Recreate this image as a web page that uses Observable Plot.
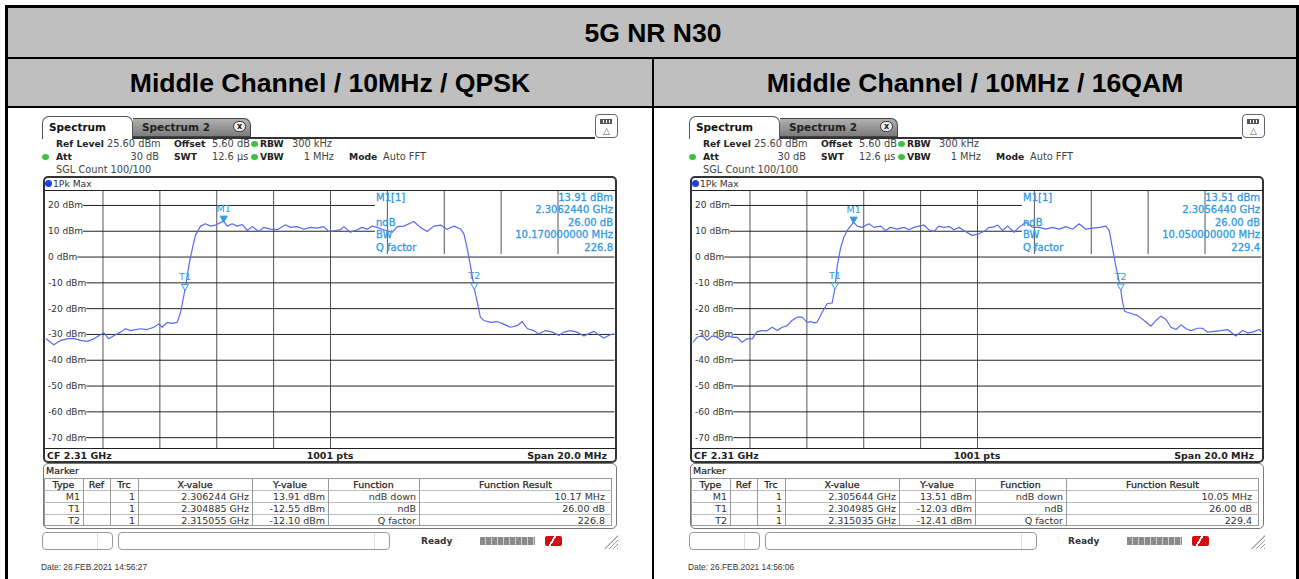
<!DOCTYPE html>
<html><head><meta charset="utf-8">
<script src="https://cdn.jsdelivr.net/npm/d3@7"></script>
<script src="https://cdn.jsdelivr.net/npm/@observablehq/plot@0.6"></script>
<style>
html,body{margin:0;padding:0;background:#fff;}
#page{position:relative;width:1299px;height:579px;overflow:hidden;background:#fff;font-family:"DejaVu Sans",sans-serif;}
.abs{position:absolute;white-space:nowrap;}
.t{position:absolute;white-space:nowrap;line-height:1;}
</style></head>
<body><div id="page"></div>
<script>
// ---------------- data ----------------
const tableTitle = "5G NR N30";
const panelTitles = ["Middle Channel / 10MHz / QPSK", "Middle Channel / 10MHz / 16QAM"];
const startMHz = 2300;           // CF 2.31 GHz, span 20 MHz
const spanMHz = 20;
const refLevel = 25.6;
const bottomLevel = -74.4;
const yTicks = [20, 10, 0, -10, -20, -30, -40, -50, -60, -70];
const xGridMHz = [2302, 2304, 2306, 2308, 2310, 2312, 2314, 2316, 2318];

// trace 1 (QPSK): frequency offset from 2300 MHz, level dBm
const qpskFreq = [0.0,0.27,0.51,0.74,0.97,1.21,1.45,1.68,1.91,2.03,2.20,2.38,2.62,2.79,2.97,3.14,3.32,3.55,3.79,3.96,4.08,4.26,4.43,4.61,4.73,4.885,5.02,5.14,5.25,5.43,5.60,5.78,5.96,6.244,6.37,6.54,6.72,6.90,7.07,7.25,7.48,7.65,7.89,8.13,8.42,8.59,8.83,9.06,9.30,9.53,9.76,9.94,10.18,10.35,10.47,10.70,10.94,11.11,11.29,11.47,11.64,11.87,12.17,12.35,12.58,12.93,13.16,13.40,13.63,13.87,14.10,14.34,14.57,14.69,14.81,14.92,15.055,15.16,15.27,15.39,15.63,15.86,16.09,16.33,16.56,16.74,16.92,17.15,17.32,17.56,17.80,18.03,18.20,18.44,18.67,18.91,19.26,19.43,19.61,19.84,20.0];
const qpskLevel = [-31.7,-34.0,-32.3,-31.7,-31.5,-32.3,-32.7,-31.7,-30.1,-29.4,-31.7,-30.5,-29.1,-27.8,-28.5,-28.1,-27.8,-28.1,-27.2,-25.9,-27.2,-25.3,-25.7,-25.3,-21.4,-12.55,-3.3,3.2,8.4,12.0,12.9,12.0,12.4,13.91,12.0,12.9,12.0,12.6,10.3,11.8,9.9,11.5,10.8,10.6,12.5,11.5,11.8,10.8,11.5,11.2,11.8,9.9,10.3,10.6,11.8,9.6,10.6,11.5,10.8,12.0,11.5,10.6,9.6,11.8,12.0,13.8,11.5,9.9,12.0,12.4,10.8,12.0,10.9,9.0,3.2,-3.3,-12.10,-17.5,-23.3,-24.6,-25.3,-25.0,-26.0,-27.2,-26.6,-25.0,-27.8,-28.5,-29.8,-28.5,-29.1,-30.4,-29.1,-28.5,-29.1,-30.6,-28.8,-30.1,-31.4,-30.1,-29.8];

// trace 2 (16QAM)
const qamFreq = [0.0,0.14,0.32,0.49,0.67,0.85,1.02,1.20,1.37,1.55,1.72,1.90,2.08,2.25,2.43,2.60,2.78,2.96,3.13,3.31,3.48,3.66,3.83,4.01,4.13,4.25,4.36,4.54,4.71,4.89,4.985,5.07,5.18,5.30,5.42,5.644,5.77,5.94,6.18,6.36,6.59,6.77,6.94,7.17,7.41,7.59,7.76,7.94,8.11,8.29,8.47,8.64,8.82,9.00,9.17,9.35,9.52,9.81,10.05,10.28,10.40,10.53,10.71,10.88,11.06,11.29,11.46,11.70,11.94,12.17,12.40,12.64,12.87,13.11,13.34,13.57,13.81,14.05,14.28,14.51,14.63,14.75,14.86,15.035,15.10,15.18,15.39,15.63,15.86,16.10,16.27,16.45,16.63,16.80,16.98,17.16,17.33,17.51,17.74,17.91,18.09,18.32,18.56,18.79,19.08,19.32,19.50,19.67,19.91,20.0];
const qamLevel = [-33.0,-31.1,-30.4,-32.3,-30.6,-31.1,-32.3,-30.6,-31.1,-31.1,-33.0,-31.7,-31.7,-28.9,-28.5,-28.6,-27.2,-28.5,-27.2,-26.6,-24.6,-23.3,-23.3,-25.3,-25.0,-25.5,-25.3,-21.4,-18.1,-17.8,-12.03,-3.3,3.2,7.7,10.3,13.51,12.0,11.5,12.9,11.5,12.0,10.3,11.5,10.8,11.5,10.6,11.5,12.0,12.4,10.6,9.9,12.0,11.5,11.8,10.6,11.5,10.3,8.4,9.0,10.3,11.5,11.5,12.4,10.3,12.0,9.6,11.5,13.5,11.5,11.5,10.8,11.5,10.8,11.8,10.8,12.9,10.8,11.2,11.5,12.0,10.3,3.2,-3.3,-12.41,-17.5,-21.1,-21.8,-22.7,-24.6,-26.8,-24.6,-22.9,-24.2,-27.2,-28.1,-26.3,-27.8,-28.5,-27.6,-27.6,-29.1,-28.8,-28.5,-28.1,-30.6,-28.5,-29.4,-29.1,-28.1,-29.1];

const markerNames = ["M1", "T1", "T2"];
const qpskMarkerFreqGHz = ["2.306244", "2.304885", "2.315055"];
const qpskMarkerLevel = [13.91, -12.55, -12.10];
const qamMarkerFreqGHz = ["2.305644", "2.304985", "2.315035"];
const qamMarkerLevel = [13.51, -12.03, -12.41];
const markerFunctions = ["ndB down", "ndB", "Q factor"];
const qpskResults = ["10.17 MHz", "26.00 dB", "226.8"];
const qamResults = ["10.05 MHz", "26.00 dB", "229.4"];
const qpskInfo = ["13.91 dBm", "2.3062440 GHz", "26.00 dB", "10.170000000 MHz", "226.8"];
const qamInfo = ["13.51 dBm", "2.3056440 GHz", "26.00 dB", "10.050000000 MHz", "229.4"];
const dates = ["Date: 26.FEB.2021  14:56:27", "Date: 26.FEB.2021  14:56:06"];

// marker info box (hides grid in top right) in data units
const infoBoxLeftMHz = 2311.58;
const infoBoxBottomDbm = 1.0;

// ---------------- helpers ----------------
const page = document.getElementById("page");
function box(css) { const d = document.createElement("div"); d.className = "abs"; d.style.cssText += css; page.appendChild(d); return d; }
function txt(s, x, y, opt = {}) {
  const d = document.createElement("div"); d.className = "t"; d.textContent = s;
  const size = opt.size || 9.5;
  d.style.fontSize = size + "px";
  d.style.fontFamily = opt.font || '"DejaVu Sans", sans-serif';
  d.style.fontWeight = opt.bold ? "bold" : "normal";
  d.style.color = opt.color || "#222";
  if (opt.stroke) d.style.webkitTextStroke = opt.stroke;
  d.style.left = x + "px"; d.style.top = y + "px";
  const tx = opt.align === "right" ? "-100%" : opt.align === "center" ? "-50%" : "0";
  d.style.transform = `translate(${tx},-50%)`;
  page.appendChild(d); return d;
}
const measureCtx = document.createElement("canvas").getContext("2d");
measureCtx.font = '9px "DejaVu Sans"';
const tickLabel = d => `${d} dBm`;

// ---------------- table frame ----------------
box("left:8px;top:8px;width:1288px;height:49px;background:#bfbfbf;");
box("left:8px;top:59px;width:1288px;height:47px;background:#bfbfbf;");
box("left:5px;top:5px;width:1294px;height:600px;border:3px solid #000;box-sizing:border-box;");
box("left:8px;top:57px;width:1288px;height:2px;background:#000;");
box("left:8px;top:106px;width:1288px;height:2px;background:#000;");
box("left:652px;top:59px;width:2px;height:540px;background:#000;");
const hFont = '"Liberation Sans", Arial, sans-serif';
txt(tableTitle, 653, 33, {size: 26.5, bold: true, font: hFont, color: "#000", align: "center"});
txt(panelTitles[0], 330, 83, {size: 26.6, bold: true, font: hFont, color: "#000", align: "center"});
txt(panelTitles[1], 975, 83, {size: 26.6, bold: true, font: hFont, color: "#000", align: "center"});

// ---------------- spectrum panel ----------------
const blue = "#3399e0";
function panel(dx, freq, level, mFreq, mLevel, info, results, date) {
  const X = v => v + dx;
  // tabs
  box(`left:${X(133)}px;top:137px;width:462px;height:2px;background:#333;`);
  box(`left:${X(133)}px;top:118px;width:118px;height:19px;box-sizing:border-box;border:1px solid #444;border-left:none;border-radius:0 7px 0 0;background:linear-gradient(#b0b0b0,#7c7c7c);`);
  txt("Spectrum 2", X(142), 127, {size: 10.5, bold: true, color: "#222"});
  const xb = box(`left:${X(233)}px;top:121px;width:13px;height:11px;box-sizing:border-box;border:1px solid #333;border-radius:6px;background:#eee;font:bold 8px 'DejaVu Sans';line-height:9px;text-align:center;color:#222;`);
  xb.textContent = "x";
  box(`left:${X(42)}px;top:116px;width:91px;height:23px;box-sizing:border-box;border:1px solid #555;border-bottom:none;border-radius:7px 7px 0 0;background:#fff;`);
  txt("Spectrum", X(49), 127, {size: 10.5, bold: true, color: "#111"});
  box(`left:${X(595)}px;top:114px;width:23px;height:24px;box-sizing:border-box;border:1px solid #666;border-radius:4px;background:#fff;`);
  box(`left:${X(600)}px;top:119px;width:12px;height:5px;background:repeating-linear-gradient(90deg,#555 0 2px,#fff 2px 3px);border:1px solid #555;box-sizing:border-box;`);
  txt("△", X(606.5), 131, {size: 9, color: "#555", align: "center"});
  // info rows
  const g = (x, y) => box(`left:${X(x) - 3}px;top:${y - 3}px;width:7px;height:6px;border-radius:50%;background:#3fbf3f;`);
  txt("Ref Level", X(56), 143.5, {size: 9.2, bold: true});
  txt("25.60 dBm", X(107), 143.5, {size: 9.8, color: "#444"});
  txt("Offset", X(174), 143.5, {size: 9.2, bold: true});
  txt("5.60 dB", X(212), 143.5, {size: 9.8, color: "#444"});
  g(254, 143.5);
  txt("RBW", X(260), 143.5, {size: 9.2, bold: true});
  txt("300 kHz", X(292), 143.5, {size: 9.8, color: "#444"});
  g(45, 156.5);
  txt("Att", X(56), 156.5, {size: 9.2, bold: true});
  txt("30 dB", X(159), 156.5, {size: 9.8, color: "#444", align: "right"});
  txt("SWT", X(174), 156.5, {size: 9.2, bold: true});
  txt("12.6 µs", X(212), 156.5, {size: 9.8, color: "#444"});
  g(254, 156.5);
  txt("VBW", X(260), 156.5, {size: 9.2, bold: true});
  txt("1 MHz", X(334), 156.5, {size: 9.8, color: "#444", align: "right"});
  txt("Mode", X(349), 156.5, {size: 9.2, bold: true});
  txt("Auto FFT", X(383), 156.5, {size: 9.8, color: "#444"});
  txt("SGL Count 100/100", X(56), 169.5, {size: 9.8, color: "#444"});

  // plot
  const innerW = 576 - 7.2;
  const pxPerMHz = innerW / spanMHz;
  const trace = freq.map((f, i) => ({f: startMHz + f, v: level[i]}));
  const markers = markerNames.map((n, i) => ({name: n, f: +mFreq[i] * 1000, v: mLevel[i]}));
  const ruleStart = d => startMHz + (2 + measureCtx.measureText(tickLabel(d)).width + 0.5) / pxPerMHz;
  const chart = Plot.plot({
    width: 576, height: 286,
    marginLeft: 3.6, marginRight: 3.6, marginTop: 14.5, marginBottom: 13.5,
    x: {domain: [startMHz, startMHz + spanMHz], axis: null},
    y: {domain: [bottomLevel, refLevel], axis: null},
    style: {background: "transparent", fontFamily: '"DejaVu Sans", sans-serif', overflow: "visible"},
    marks: [
      Plot.ruleX(xGridMHz, {x: d => d, y1: d => d > infoBoxLeftMHz ? infoBoxBottomDbm : bottomLevel, y2: refLevel, stroke: "#555", strokeWidth: 1}),
      Plot.ruleY(yTicks, {y: d => d, x1: ruleStart, x2: d => d > infoBoxBottomDbm ? infoBoxLeftMHz : startMHz + spanMHz, stroke: "#222", strokeWidth: 1}),
      Plot.text(yTicks, {x: startMHz, y: d => d, text: tickLabel, textAnchor: "start", dx: 2, fill: "#333", fontSize: 9}),
      Plot.line(trace, {x: "f", y: "v", stroke: "#5a6af0", strokeWidth: 1.2, clip: true}),
      Plot.dot(markers, {x: "f", y: "v", symbol: "triangle", rotate: 180, r: 2.6, dy: -3, fill: d => d.name === "M1" ? blue : "white", stroke: blue, strokeWidth: 1}),
      Plot.text(markers, {x: "f", y: "v", text: "name", dy: -12, fill: blue, fontSize: 9.5})
    ]
  });
  chart.style.position = "absolute";
  chart.style.left = X(42) + "px";
  chart.style.top = "176px";
  page.appendChild(chart);

  // frame
  box(`left:${X(43)}px;top:176px;width:574px;height:287px;box-sizing:border-box;border:2px solid #333;border-radius:5px;`);
  box(`left:${X(44)}px;top:190px;width:572px;height:1px;background:#222;`);
  box(`left:${X(44)}px;top:448px;width:572px;height:1px;background:#222;`);
  box(`left:${X(45)}px;top:180px;width:7px;height:7px;border-radius:50%;background:#1f3fe0;`);
  txt("1Pk Max", X(53), 183.5, {size: 9.2, color: "#333"});
  txt("CF 2.31 GHz", X(47), 456, {size: 9.5, bold: true});
  txt("1001 pts", X(330), 456, {size: 9.5, bold: true, align: "center"});
  txt("Span 20.0 MHz", X(607), 456, {size: 9.5, bold: true, align: "right"});
  // marker info
  const rows = [197.7, 210.2, 222.7, 235.2, 247.7];
  const leftLabels = ["M1[1]", "", "ndB", "BW", "Q factor"];
  leftLabels.forEach((s, i) => { if (s) txt(s, X(376), rows[i], {size: 10, color: blue, stroke: "0.3px " + blue}); });
  info.forEach((s, i) => txt(s, X(613), rows[i], {size: 10, color: blue, align: "right", stroke: "0.3px " + blue}));

  // marker table
  box(`left:${X(43)}px;top:463px;width:574px;height:66px;box-sizing:border-box;border:1px solid #777;border-radius:5px;`);
  txt("Marker", X(46), 470.5, {size: 9.5, color: "#222", stroke: "0.2px #222"});
  const cols = [44, 83, 110, 138, 252, 328, 419, 612];
  const rowsY = [478, 490, 502, 514, 526];
  box(`left:${X(44)}px;top:478px;width:568px;height:48px;box-sizing:border-box;border:1px solid #999;`);
  rowsY.slice(1, 4).forEach(y => box(`left:${X(44)}px;top:${y}px;width:568px;height:1px;background:#bbb;`));
  cols.slice(1, 7).forEach(c => box(`left:${X(c)}px;top:478px;width:1px;height:48px;background:#999;`));
  const heads = ["Type", "Ref", "Trc", "X-value", "Y-value", "Function", "Function Result"];
  heads.forEach((h, i) => txt(h, X((cols[i] + cols[i + 1]) / 2), 484.5, {size: 9.5, color: "#222", align: "center", stroke: "0.25px #222"}));
  markerNames.forEach((n, r) => {
    const y = rowsY[r + 1] + 6.5;
    const cells = [n, "", "1", mFreq[r] + " GHz", mLevel[r].toFixed(2) + " dBm", markerFunctions[r], results[r]];
    cells.forEach((c, i) => { if (c) txt(c, X(cols[i + 1] - 3 - (i === 6 ? 4 : 0)), y, {size: 9.5, color: "#333", align: "right"}); });
  });

  // status bar
  box(`left:${X(42)}px;top:532px;width:71px;height:18px;box-sizing:border-box;border:1px solid #999;border-radius:4px;`);
  box(`left:${X(97)}px;top:533px;width:1px;height:16px;background:#ddd;`);
  box(`left:${X(118)}px;top:532px;width:272px;height:18px;box-sizing:border-box;border:1px solid #999;border-radius:4px;`);
  box(`left:${X(374)}px;top:533px;width:1px;height:16px;background:#ddd;`);
  txt("Ready", X(421), 541, {size: 9, bold: true, color: "#333"});
  box(`left:${X(480)}px;top:537px;width:55px;height:8px;background:repeating-linear-gradient(90deg,#8a8a8a 0 5px,#d0d0d0 5px 6px);`);
  box(`left:${X(545)}px;top:536px;width:17px;height:10px;background:linear-gradient(120deg,#d01010 0 40%,#fff 40% 50%,#d01010 50% 100%);border-radius:2px;`);
  box(`left:${X(604)}px;top:535px;width:14px;height:14px;clip-path:polygon(100% 0,100% 100%,0 100%);background:repeating-linear-gradient(-45deg,#999 0 1px,transparent 1px 3px);`);
  txt(date, X(41), 567, {size: 8.4, color: "#333", font: hFont});
}
panel(0, qpskFreq, qpskLevel, qpskMarkerFreqGHz, qpskMarkerLevel, qpskInfo, qpskResults, dates[0]);
panel(647, qamFreq, qamLevel, qamMarkerFreqGHz, qamMarkerLevel, qamInfo, qamResults, dates[1]);
</script></body></html>
